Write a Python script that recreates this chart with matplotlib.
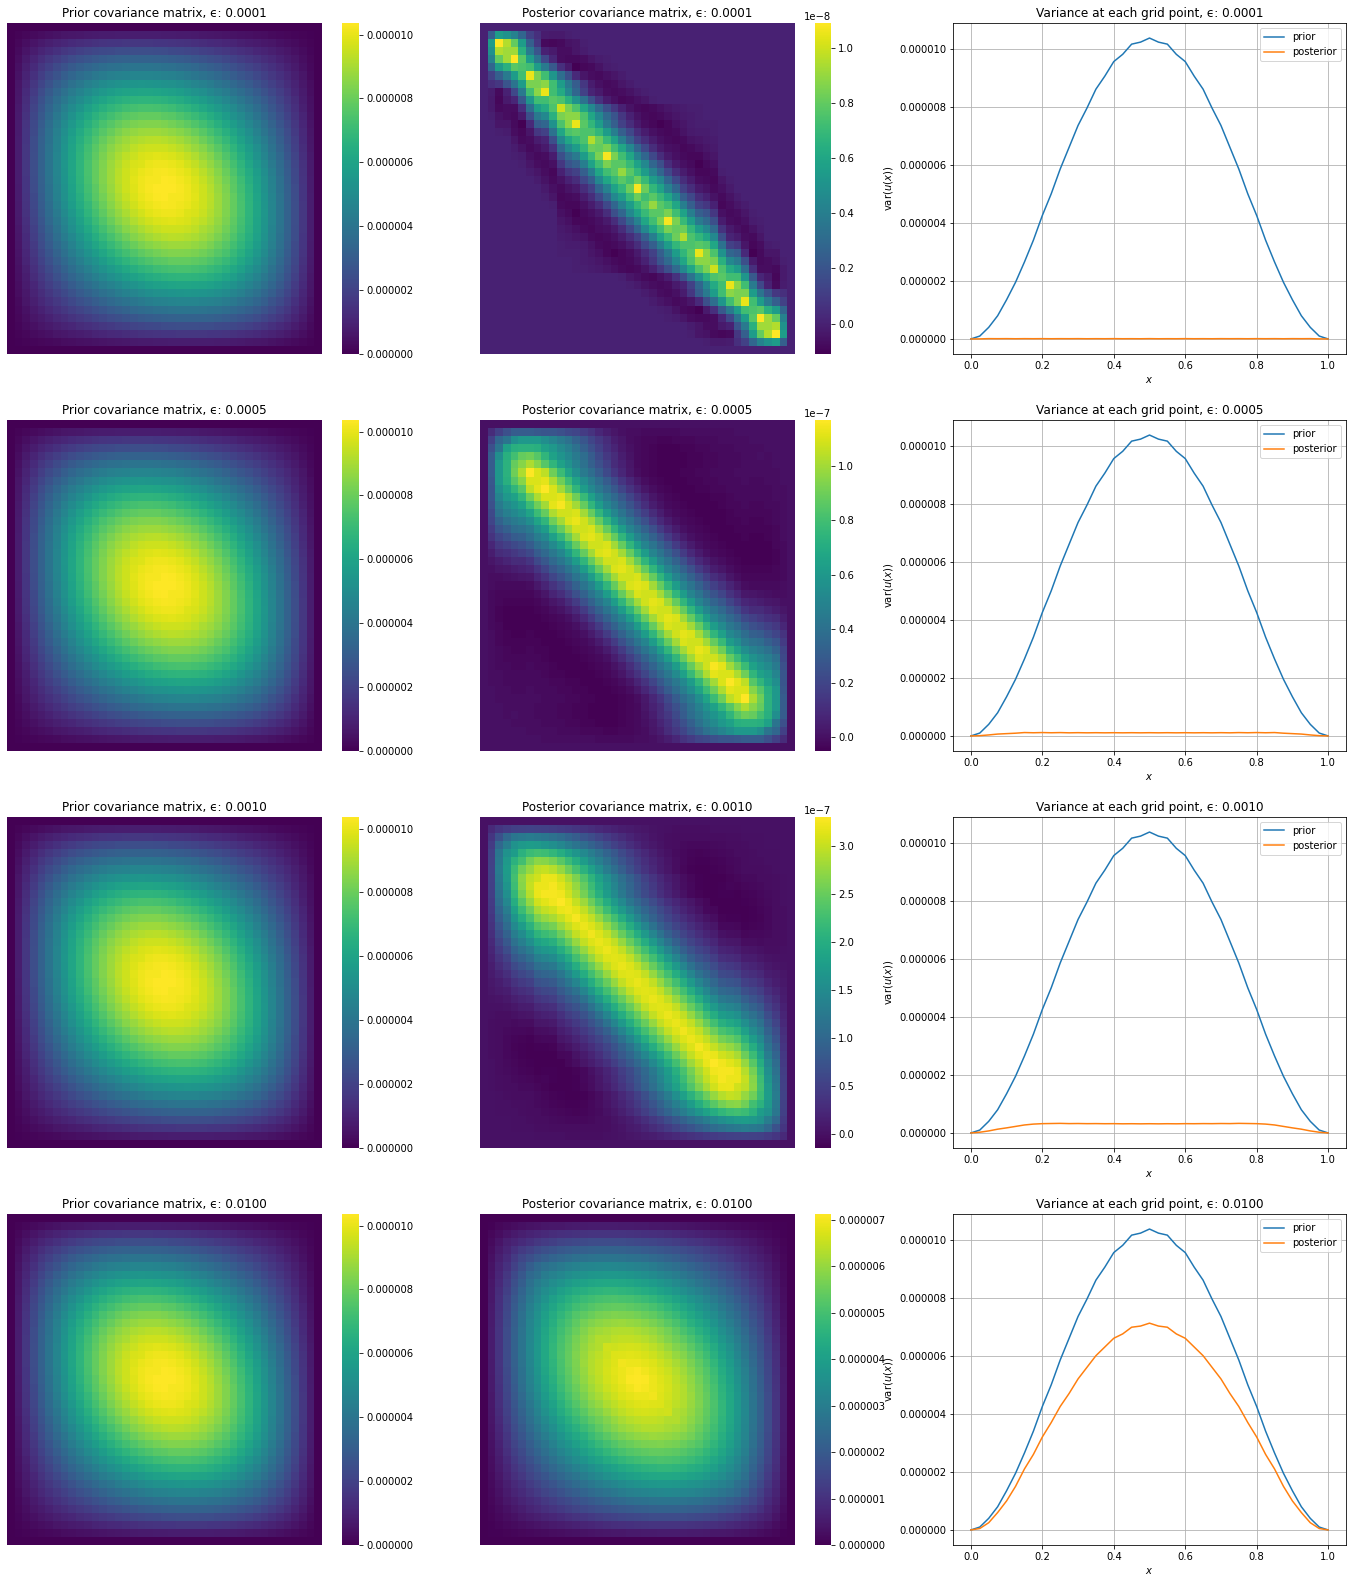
import numpy as np
import matplotlib
matplotlib.use('Agg')
import matplotlib.pyplot as plt
from matplotlib.ticker import FormatStrFormatter

# grid of the 1d problem
x_grid = [i / 40 for i in range(41)]
epsilons = ['0.0001', '0.0005', '0.0010', '0.0100']

# Matrices are symmetric about both diagonals, so only the upper wedge is kept:
# row i holds the cells j = i .. 40-i.

# units of 1e-7
prior_rows = [
    [0] * 41,
    [1.0,1.9,2.8,3.6,4.4,5.1,5.7,6.2,6.7,7.1,7.5,7.8,8.0,8.1,8.2,8.3,8.3,8.2,8.1,8.0,7.8,7.6,7.3,7.0,6.6,6.3,5.9,5.5,5.1,4.7,4.2,3.8,3.3,2.8,2.4,1.9,1.4,0.9,0.5],
    [4,5.5,7.1,8.6,10,11.2,12.3,13.2,14.1,14.8,15.4,15.8,16.1,16.3,16.4,16.5,16.4,16.1,15.9,15.5,15,14.6,13.9,13.3,12.5,11.8,11,10.2,9.3,8.4,7.6,6.7,5.7,4.7,3.8,2.9,1.9],
    [8,10.3,12.5,14.5,16.4,18.1,19.5,20.8,21.9,22.7,23.4,23.9,24.2,24.4,24.4,24.3,24,23.5,23,22.4,21.6,20.8,19.8,18.8,17.6,16.5,15.2,14,12.6,11.3,10,8.5,7.1,5.7,4.3],
    [13.5,16.3,19,21.4,23.6,25.6,27.3,28.7,29.9,30.8,31.6,32,32.2,32.3,32.1,31.8,31.3,30.5,29.7,28.8,27.6,26.4,24.9,23.5,21.9,20.3,18.6,16.9,15,13.2,11.4,9.5,7.6],
    [19.5,23.1,26.1,28.9,31.3,33.5,35.2,36.8,38,38.7,39.5,39.8,39.9,39.7,39.3,38.7,38,36.7,35.7,34.4,32.7,31.1,29.3,27.4,25.3,23.3,21,18.9,16.5,14.2,11.9],
    [26.5,30.5,33.7,36.6,39.2,41.5,43.3,44.7,45.9,46.5,47.2,47.2,47,46.6,45.9,45,43.9,42.3,40.8,39.1,37,35,32.6,30.3,27.7,25.2,22.5,19.8,16.9],
    [34,38.3,41.6,44.7,47.2,49.4,51.2,52.5,53.6,54,54.4,54.2,53.7,52.9,51.9,50.6,49.1,47.1,45.2,43,40.4,37.9,35.1,32.3,29.2,26.2,22.9],
    [42.5,46.2,49.6,52.6,55.1,57.3,58.8,60,60.7,60.9,61,60.5,59.7,58.5,57.1,55.4,53.4,51,48.5,46,42.9,39.9,36.5,33.3,29.7],
    [50,54.2,57.6,60.4,62.8,64.8,66.1,67,67.5,67.3,67.1,66.2,64.9,63.4,61.5,59.3,57,54,51,48,44.4,40.9,37],
    [58.5,62,65.2,67.9,70,71.7,72.7,73.3,73.4,72.9,72.3,70.9,69.2,67.3,64.9,62.3,59.4,55.9,52.6,49,44.9],
    [66,69.4,72.4,74.8,76.6,78.1,78.7,78.9,78.7,77.6,76.6,74.8,72.6,70.2,67.3,64.3,60.9,56.9,53],
    [73.5,76.3,79,81.2,82.7,83.7,84,83.8,83.1,81.6,80.1,77.8,75.2,72.2,68.9,65.2,61.4],
    [79.5,82.7,85,86.9,88,88.6,88.4,87.7,86.6,84.6,82.7,79.9,76.7,73.2,69.4],
    [86,88.4,90.3,91.7,92.4,92.7,91.9,90.8,89.2,86.7,84.2,80.9,77.2],
    [90.5,93.2,94.7,95.6,95.9,95.6,94.5,92.7,90.6,87.6,84.6],
    [95.5,97.3,98.3,98.8,98.5,97.8,96,93.9,91.2],
    [98,100.3,100.8,100.8,100,98.8,96.5],
    [101.5,102.3,102.4,101.8,100.6],
    [102.2,103.3,102.8],
    [103.6],
]

# units of 1e-10
post_0001_rows = [
    [0] * 41,
    [25,55,50,42,28,12,5,-2,-3,-3,-1] + [0] * 28,
    [109,95,80,55,25,8,-8,-9,-8,-5,-4,-1,0] + [0] * 24,
    [92,92,65,38,20,0,-3,-7,-7,-4,-2,0] + [0] * 23,
    [109,78,55,35,15,2,-7,-8,-8,-7,-4,-2,-1] + [0] * 20,
    [75,72,55,38,22,5,-3,-11,-9,-8,-5,-2,-1] + [0] * 18,
    [105,85,72,52,32,18,3,-4,-7,-8,-6,-4,-2] + [0] * 16,
    [85,88,72,55,38,24,8,-2,-6,-8,-7,-4,-2] + [0] * 14,
    [105,72,62,45,28,12,1,-3,-7,-8,-7,-5,-3,-1] + [0] * 11,
    [78,75,65,50,34,18,6,-2,-6,-9,-8,-6,-4,-1] + [0] * 9,
    [100,85,75,60,45,30,18,8,0,-5,-8,-9,-8,-6,-4,-3,-2,-1,-1,0,0],
    [88,88,75,60,45,30,20,8,0,-5,-8,-9,-8,-6,-4,-3,-2,-1,0],
    [105,78,68,55,38,25,12,4,-3,-7,-9,-11,-9,-6,-4,-2,-1],
    [75,75,68,55,40,25,15,4,-2,-6,-8,-9,-8,-5,-3],
    [95,82,70,58,40,25,12,4,-2,-6,-8,-9,-8],
    [80,85,72,60,45,28,15,4,-3,-6,-7],
    [108,85,72,60,42,28,15,4,-3],
    [78,78,70,58,45,28,18],
    [90,78,68,55,42],
    [72,82,70],
    [108],
]

# units of 1e-9
post_0005_rows = [
    [0] * 41,
    [10,18,25,30,30,30,28,27,27,25,22,20,16,13,8,5,2,0,-1,-1,-2,-2,-2,-2,-2,-1,-1,-1,-1,-1,-1,-1,0,0,0,0,0,0,0],
    [35,42,55,60,60,60,55,50,45,40,33,27,20,15,10,5,2,-1,-2,-3,-3,-4,-4,-3,-3,-3,-2,-2,-2,-1,-1,-1,-1,0,0,0,0],
    [65,72,73,73,72,65,60,53,47,40,32,25,18,12,7,3,0,-2,-3,-4,-5,-5,-5,-4,-4,-3,-3,-2,-2,-2,-1,-1,-1,-1,0],
    [80,88,90,85,75,65,58,52,45,38,30,22,15,10,5,1,-2,-3,-4,-5,-5,-5,-5,-4,-4,-3,-3,-2,-2,-2,-1,-1,0],
    [95,102,95,85,75,65,57,48,40,32,25,18,10,6,2,-2,-3,-4,-5,-5,-5,-5,-4,-4,-3,-3,-2,-2,-2,-1,-1],
    [117,110,105,90,78,66,55,45,38,30,22,14,8,3,-1,-3,-4,-5,-5,-5,-4,-4,-3,-3,-2,-2,-2,-1,-1],
    [110,112,102,90,78,66,55,46,38,30,22,14,8,3,-1,-3,-4,-5,-5,-5,-4,-4,-3,-3,-2,-2,-2],
    [117,110,100,88,75,62,52,44,36,28,20,13,7,2,-1,-3,-4,-5,-5,-5,-4,-4,-3,-3,-2],
    [110,112,102,90,77,64,53,44,36,28,20,13,7,2,-1,-3,-4,-5,-5,-5,-5,-4,-4],
    [116,108,100,88,75,62,51,43,34,26,18,11,5,1,-2,-3,-4,-5,-5,-5,-5],
    [108,110,100,88,75,62,51,42,33,25,17,10,5,0,-2,-3,-4,-5,-5],
    [113,108,100,88,75,62,50,42,33,25,16,9,4,0,-2,-3,-4],
    [108,110,100,88,75,62,50,42,33,25,16,9,4,0,-2],
    [112,108,100,88,75,62,50,42,33,25,16,9,4],
    [108,110,100,88,75,62,50,42,33,25,16],
    [112,108,100,88,75,62,50,42,33],
    [108,110,100,88,75,62,50],
    [112,108,100,88,75],
    [108,110,100],
    [112],
]

# units of 1e-9
post_0010_rows = [
    [0] * 41,
    [25,38,45,50,52,53,52,50,48,45,42,38,34,30,25,21,17,13,10,7,4,2,0,-1,-2,-2,-2,-2,-2,-1,-1,-1,-1,0,0,0,0,0,0],
    [70,100,120,125,128,125,120,113,105,95,85,75,65,55,45,36,28,20,13,8,3,0,-2,-3,-4,-4,-4,-4,-3,-3,-2,-2,-1,-1,-1,0,0],
    [130,160,170,175,172,165,155,145,130,118,105,92,78,65,52,41,30,21,13,7,2,-2,-4,-6,-7,-7,-7,-6,-5,-4,-3,-2,-1,-1,0],
    [175,205,220,225,222,212,198,182,165,148,130,112,95,78,62,47,34,23,14,6,0,-5,-8,-10,-11,-10,-9,-7,-6,-4,-3,-2,-1],
    [225,255,270,268,258,240,220,198,175,152,132,112,92,75,58,43,30,20,11,3,-3,-8,-11,-13,-13,-12,-10,-8,-6,-4,-2],
    [275,295,300,292,275,252,228,205,180,155,130,108,88,68,50,35,23,12,4,-3,-9,-13,-14,-14,-13,-11,-9,-6,-4],
    [305,320,318,305,285,262,235,208,183,157,133,110,90,70,52,37,24,13,4,-3,-9,-13,-15,-15,-14,-12,-9],
    [320,325,315,298,275,248,220,192,167,142,118,96,76,58,42,28,16,6,-2,-8,-13,-15,-15,-13,-10],
    [325,322,305,285,258,230,202,175,150,125,102,82,63,47,32,20,9,0,-7,-12,-15,-15,-13],
    [330,318,300,280,252,225,198,172,147,120,100,82,64,48,33,22,12,4,-3,-9,-15],
    [322,315,298,275,250,222,195,170,145,120,98,80,62,46,32,20,10,2,-8],
    [325,312,298,275,250,225,198,170,142,115,92,73,56,42,30,19,10],
    [320,312,298,275,250,225,198,170,142,115,90,72,55,42,30],
    [322,312,298,275,250,225,198,170,142,115,90,72,55],
    [318,312,298,275,250,225,198,170,142,115,90],
    [320,312,298,275,250,225,198,170,142],
    [315,312,298,275,250,225,198],
    [318,312,298,275,250],
    [314,312,298],
    [318],
]

# units of 1e-7
post_0100_rows = [
    [0] * 41,
    [.5,1.2,1.8,2.4,3,3.4,3.8,4.2,4.5,4.7,5,5.1,5.2,5.3,5.3,5.4,5.3,5.2,5.1,5,4.9,4.7,4.5,4.3,4,3.8,3.5,3.3,3,2.7,2.4,2.2,1.9,1.6,1.3,1,.8,.5,.3],
    [2.5,3.8,4.9,5.9,6.8,7.6,8.3,8.9,9.5,9.9,10.2,10.5,10.7,10.8,10.8,10.8,10.7,10.5,10.2,10,9.6,9.2,8.7,8.2,7.7,7.1,6.6,6,5.4,4.9,4.3,3.7,3.2,2.6,2,1.5,1],
    [6,7.1,8.6,10,11.2,12.4,13.3,14.2,14.9,15.4,15.9,16.2,16.3,16.4,16.3,16.2,15.9,15.5,15.1,14.6,14,13.4,12.7,11.9,11.1,10.3,9.5,8.6,7.7,6.9,6,5.1,4.2,3.3,2.5],
    [10,12,13.9,15.6,17,18.3,19.3,20.2,20.9,21.4,21.8,22,22.1,22,21.8,21.4,21,20.3,19.7,19,18.2,17.3,16.3,15.3,14.2,13.1,11.9,10.7,9.5,8.2,7,5.7,4.5],
    [15,17.2,19.2,21,22.6,23.9,25,26,26.6,27,27.3,27.4,27.3,27,26.6,26.1,25.4,24.4,23.5,22.5,21.2,20,18.7,17.4,15.9,14.5,12.9,11.5,10,8.5,7],
    [21,24,26,27.8,29.2,30.4,31.5,32.3,32.8,33,33.2,33,32.6,32.1,31.4,30.6,29.6,28.3,27.1,25.7,24.2,22.8,21.1,19.5,17.7,16,14.2,12.4,10.3],
    [26,29.5,31.2,33,34.5,35.7,36.7,37.5,37.8,38,38,37.6,37,36.2,35.2,34.1,32.8,31.3,29.8,28.1,26.2,24.5,22.6,20.7,18.6,16.6,14.4],
    [32,34.6,36.5,38.4,39.8,41,41.8,42.4,42.7,42.6,42.3,41.8,41,39.9,38.7,37.3,35.7,33.9,32,30,27.8,25.8,23.5,21.3,18.8],
    [37,39.8,41.8,43.4,44.6,45.7,46.4,46.8,46.8,46.3,45.8,45,43.8,42.6,41,39.3,37.5,35.3,33.2,31.1,28.7,26.4,23.8],
    [42.5,44.9,46.7,48.3,49.4,50.3,50.7,50.9,50.6,50.1,49.4,48.2,46.8,45.2,43.4,41.4,39.3,36.9,34.6,32.1,29.3],
    [47,49.3,50.8,52.2,53.2,53.9,54.1,54,53.6,52.7,51.8,50.4,48.7,46.9,44.7,42.4,40,37.2,34.5],
    [52,53.6,55,56.2,56.9,57.3,57.2,56.8,56.1,55,53.7,51.9,49.9,47.7,45.2,42.6,39.8],
    [56,57.6,58.8,59.7,60.3,60.4,60,59.3,58.3,56.9,55.2,53.1,50.8,48.2,45.2],
    [60,61,62,62.7,63,63,62.1,61.1,59.8,57.9,56,53.6,50.8],
    [63,63.1,64.1,64.6,64.7,64.2,63.2,61.8,60,57.8,55.6],
    [66,65.9,66.4,66.6,66.2,65.4,64,62.4,60.3],
    [67.5,67.8,67.9,67.7,67,65.9,64.1],
    [69.8,69.2,69,68.4,67.4],
    [70.2,70.8,69.8],
    [71.2],
]

post_rows = [post_0001_rows, post_0005_rows, post_0010_rows, post_0100_rows]
post_units = [1e-10, 1e-9, 1e-9, 1e-7]
post_ticks = [
    [0, 0.2e-8, 0.4e-8, 0.6e-8, 0.8e-8, 1.0e-8],
    [0, 0.2e-7, 0.4e-7, 0.6e-7, 0.8e-7, 1.0e-7],
    [0, 0.5e-7, 1.0e-7, 1.5e-7, 2.0e-7, 2.5e-7, 3.0e-7],
    [0, 1e-6, 2e-6, 3e-6, 4e-6, 5e-6, 6e-6, 7e-6],
]
prior_ticks = [0, 2e-6, 4e-6, 6e-6, 8e-6, 10e-6]


def expand(rows, unit):
    bad = [i for i, r in enumerate(rows) if len(r) != 41 - 2 * i]
    if bad:
        raise ValueError('bad rows %s' % [(i, len(rows[i])) for i in bad])
    m = np.zeros((41, 41))
    for i, r in enumerate(rows):
        for k, v in enumerate(r):
            j = i + k
            m[i, j] = m[j, i] = m[40 - i, 40 - j] = m[40 - j, 40 - i] = v * unit
    return m


W, H = 1353, 1583
plt.rcParams['font.size'] = 10


def add_px_axes(fig, left, top, right, bottom):
    return fig.add_axes([left / W, 1 - bottom / H, (right - left) / W, (bottom - top) / H])


def heat(fig, m, left, cbar_left, cbar_right, top, title, ticks, fixed_fmt):
    ax = add_px_axes(fig, left, top, left + 315, top + 331)
    cax = add_px_axes(fig, cbar_left, top, cbar_right, top + 331)
    mesh = ax.pcolormesh(m, cmap='viridis', vmin=m.min(), vmax=m.max())
    ax.invert_yaxis()
    ax.set_xticks([])
    ax.set_yticks([])
    for s in ax.spines.values():
        s.set_visible(False)
    ax.set_title(title, fontsize=12)
    cbar = fig.colorbar(mesh, cax=cax, ticks=ticks)
    cbar.outline.set_linewidth(0)
    if fixed_fmt:
        cax.yaxis.set_major_formatter(FormatStrFormatter('%.6f'))


fig = plt.figure(figsize=(W / 72, H / 72), dpi=72)
prior = expand(prior_rows, 1e-7)

for n, eps in enumerate(epsilons):
    top = 23 + 397 * n
    post = expand(post_rows[n], post_units[n])

    heat(fig, prior, 7, 342, 359, top, 'Prior covariance matrix, \u03f5: ' + eps, prior_ticks, True)
    heat(fig, post, 480, 815, 831, top, 'Posterior covariance matrix, \u03f5: ' + eps, post_ticks[n], n == 3)

    ax = add_px_axes(fig, 953, top, 1346, top + 331)
    ax.plot(x_grid, np.diag(prior), label='prior')
    ax.plot(x_grid, np.diag(post), label='posterior')
    ax.set_yticks(prior_ticks)
    ax.yaxis.set_major_formatter(FormatStrFormatter('%.6f'))
    ax.grid(True)
    ax.legend(loc='upper right')
    ax.set_xlabel('$x$')
    ax.set_ylabel(r'var$(u(x))$')
    ax.set_title('Variance at each grid point, \u03f5: ' + eps, fontsize=12)

fig.savefig('out.png', dpi=72)
